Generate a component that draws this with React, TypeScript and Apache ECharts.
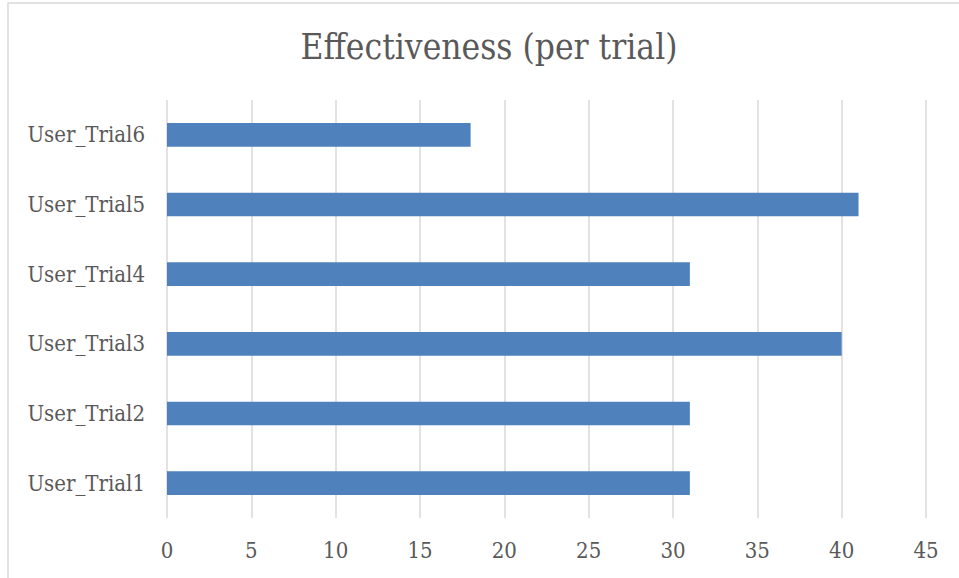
import React, { useEffect, useRef } from "react";
import * as echarts from "echarts";

const categories = ["User_Trial1", "User_Trial2", "User_Trial3", "User_Trial4", "User_Trial5", "User_Trial6"];
const values = [31, 31, 40, 31, 41, 18];
const titleText = "Effectiveness (per trial)";

const FONT = "'DejaVu Serif Condensed', 'Liberation Serif', serif";

export default function App() {
  const ref = useRef<HTMLDivElement>(null);
  useEffect(() => {
    if (!ref.current) return;
    const chart = echarts.init(ref.current, null, { renderer: "svg" });
    chart.setOption({
      animation: false,
      backgroundColor: "#ffffff",
      graphic: [
        {
          type: "rect",
          shape: { x: 8, y: 3, width: 1000, height: 1000 },
          style: { fill: "none", stroke: "#d9d9d9", lineWidth: 1.5 },
          silent: true,
        },
        {
          type: "text",
          x: 489,
          y: 47,
          style: {
            text: titleText,
            fontFamily: FONT,
            fontSize: 35,
            fill: "#595959",
            textAlign: "center",
            textVerticalAlign: "middle",
          },
          silent: true,
        },
      ],
      grid: { left: 167, right: 33, top: 100, bottom: 60, containLabel: false },
      xAxis: {
        type: "value",
        min: 0,
        max: 45,
        interval: 5,
        axisLine: { show: false },
        axisTick: { show: false },
        splitLine: { show: true, lineStyle: { color: "#d9d9d9", width: 1.5 } },
        axisLabel: { fontFamily: FONT, fontSize: 22, color: "#595959", margin: 21 },
      },
      yAxis: {
        type: "category",
        data: categories,
        axisLine: { show: false },
        axisTick: { show: false },
        axisLabel: { fontFamily: FONT, fontSize: 22, color: "#595959", margin: 22 },
      },
      series: [
        {
          type: "bar",
          data: values,
          barWidth: "34%",
          itemStyle: { color: "#4F81BD" },
        },
      ],
    });
    return () => chart.dispose();
  }, []);
  return <div ref={ref} style={{ position: "fixed", left: 0, top: 0, width: 959, height: 578 }} />;
}
